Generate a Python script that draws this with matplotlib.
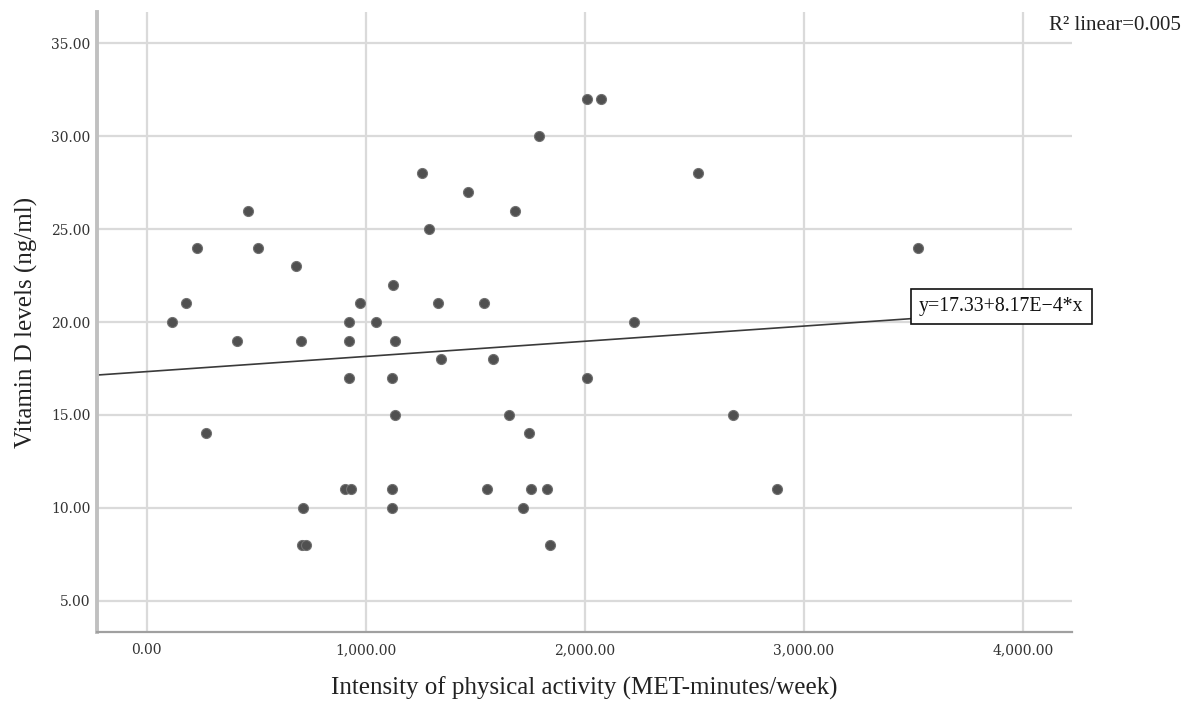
import matplotlib
matplotlib.use("Agg")
import matplotlib.pyplot as plt
import numpy as np

# ---- data ----
activity = [115, 179, 229, 270, 413, 463, 508, 684, 704, 715, 708, 728,
            905, 932, 923, 923, 923, 973, 1046, 1125, 1134, 1121, 1133,
            1121, 1121, 1255, 1288, 1331, 1342, 1468, 1541, 1552, 1582,
            1654, 1681, 1719, 1745, 1754, 1792, 1826, 1841, 2011, 2073,
            2011, 2225, 2518, 2677, 2875, 3519]
vitd = [20, 21, 24, 14, 19, 26, 24, 23, 19, 10, 8, 8,
        11, 11, 20, 19, 17, 21, 20, 22, 19, 17, 15,
        11, 10, 28, 25, 21, 18, 27, 21, 11, 18,
        15, 26, 10, 14, 11, 30, 11, 8, 32, 32,
        17, 20, 28, 15, 11, 24]
intercept = 17.33
slope = 8.17e-4
x_ticks = [0, 1000, 2000, 3000, 4000]
y_ticks = [5, 10, 15, 20, 25, 30, 35]
x_label = "Intensity of physical activity (MET-minutes/week)"
y_label = "Vitamin D levels (ng/ml)"
eq_label = "y=17.33+8.17E\u22124*x"
r2_label = "R\u00b2 linear=0.005"

plt.rcParams['font.family'] = ['Liberation Serif', 'DejaVu Serif']

fig = plt.figure(figsize=(11.97, 7.02), dpi=100)
ax = fig.add_axes([0.0813, 0.0993, 0.8140, 0.8832])

xmin, xmax = -225, 4222
ymin, ymax = 3.3, 36.67
ax.set_xlim(xmin, xmax)
ax.set_ylim(ymin, ymax)

grid_c = '#dadada'
for xv in x_ticks:
    ax.axvline(xv, color=grid_c, lw=1.6, zorder=0)
for yv in y_ticks:
    ax.axhline(yv, color=grid_c, lw=1.6, zorder=0)

xs = np.array([xmin, xmax])
ax.plot(xs, intercept + slope * xs, color='#3a3a3a', lw=1.2, zorder=2)

ax.scatter(activity, vitd, s=52, color='#505050', edgecolors='#727272',
           linewidths=0.8, zorder=3)

tick_font = dict(family=['DejaVu Serif'], size=10, color='#333333')
ax.set_xticks(x_ticks)
ax.set_xticklabels([f"{v:,.2f}" for v in x_ticks], fontdict=tick_font)
ax.set_yticks(y_ticks)
ax.set_yticklabels([f"{v:.2f}" for v in y_ticks], fontdict=tick_font)
ax.tick_params(length=0, pad=5)
ax.tick_params(axis='x', pad=8)

for s in ['top', 'right']:
    ax.spines[s].set_visible(False)
ax.spines['left'].set_color('#c0c0c0')
ax.spines['left'].set_linewidth(2.8)
ax.spines['bottom'].set_color('#a0a0a0')
ax.spines['bottom'].set_linewidth(1.6)

ax.set_xlabel(x_label, fontsize=18, color='#222222', labelpad=14)
ax.set_ylabel(y_label, fontsize=18, color='#222222', labelpad=9)

ax.text(3525, 20.83, eq_label, fontsize=14.3, color='#111111', va='center',
        ha='left', zorder=5, clip_on=False,
        bbox=dict(boxstyle='square,pad=0.4', fc='white', ec='#111111', lw=1.2))

fig.text(1049 / 1197, 1 - 26 / 702, r2_label, fontsize=15, color='#222222',
         ha='left', va='center')

fig.savefig("out.png", dpi=100)
